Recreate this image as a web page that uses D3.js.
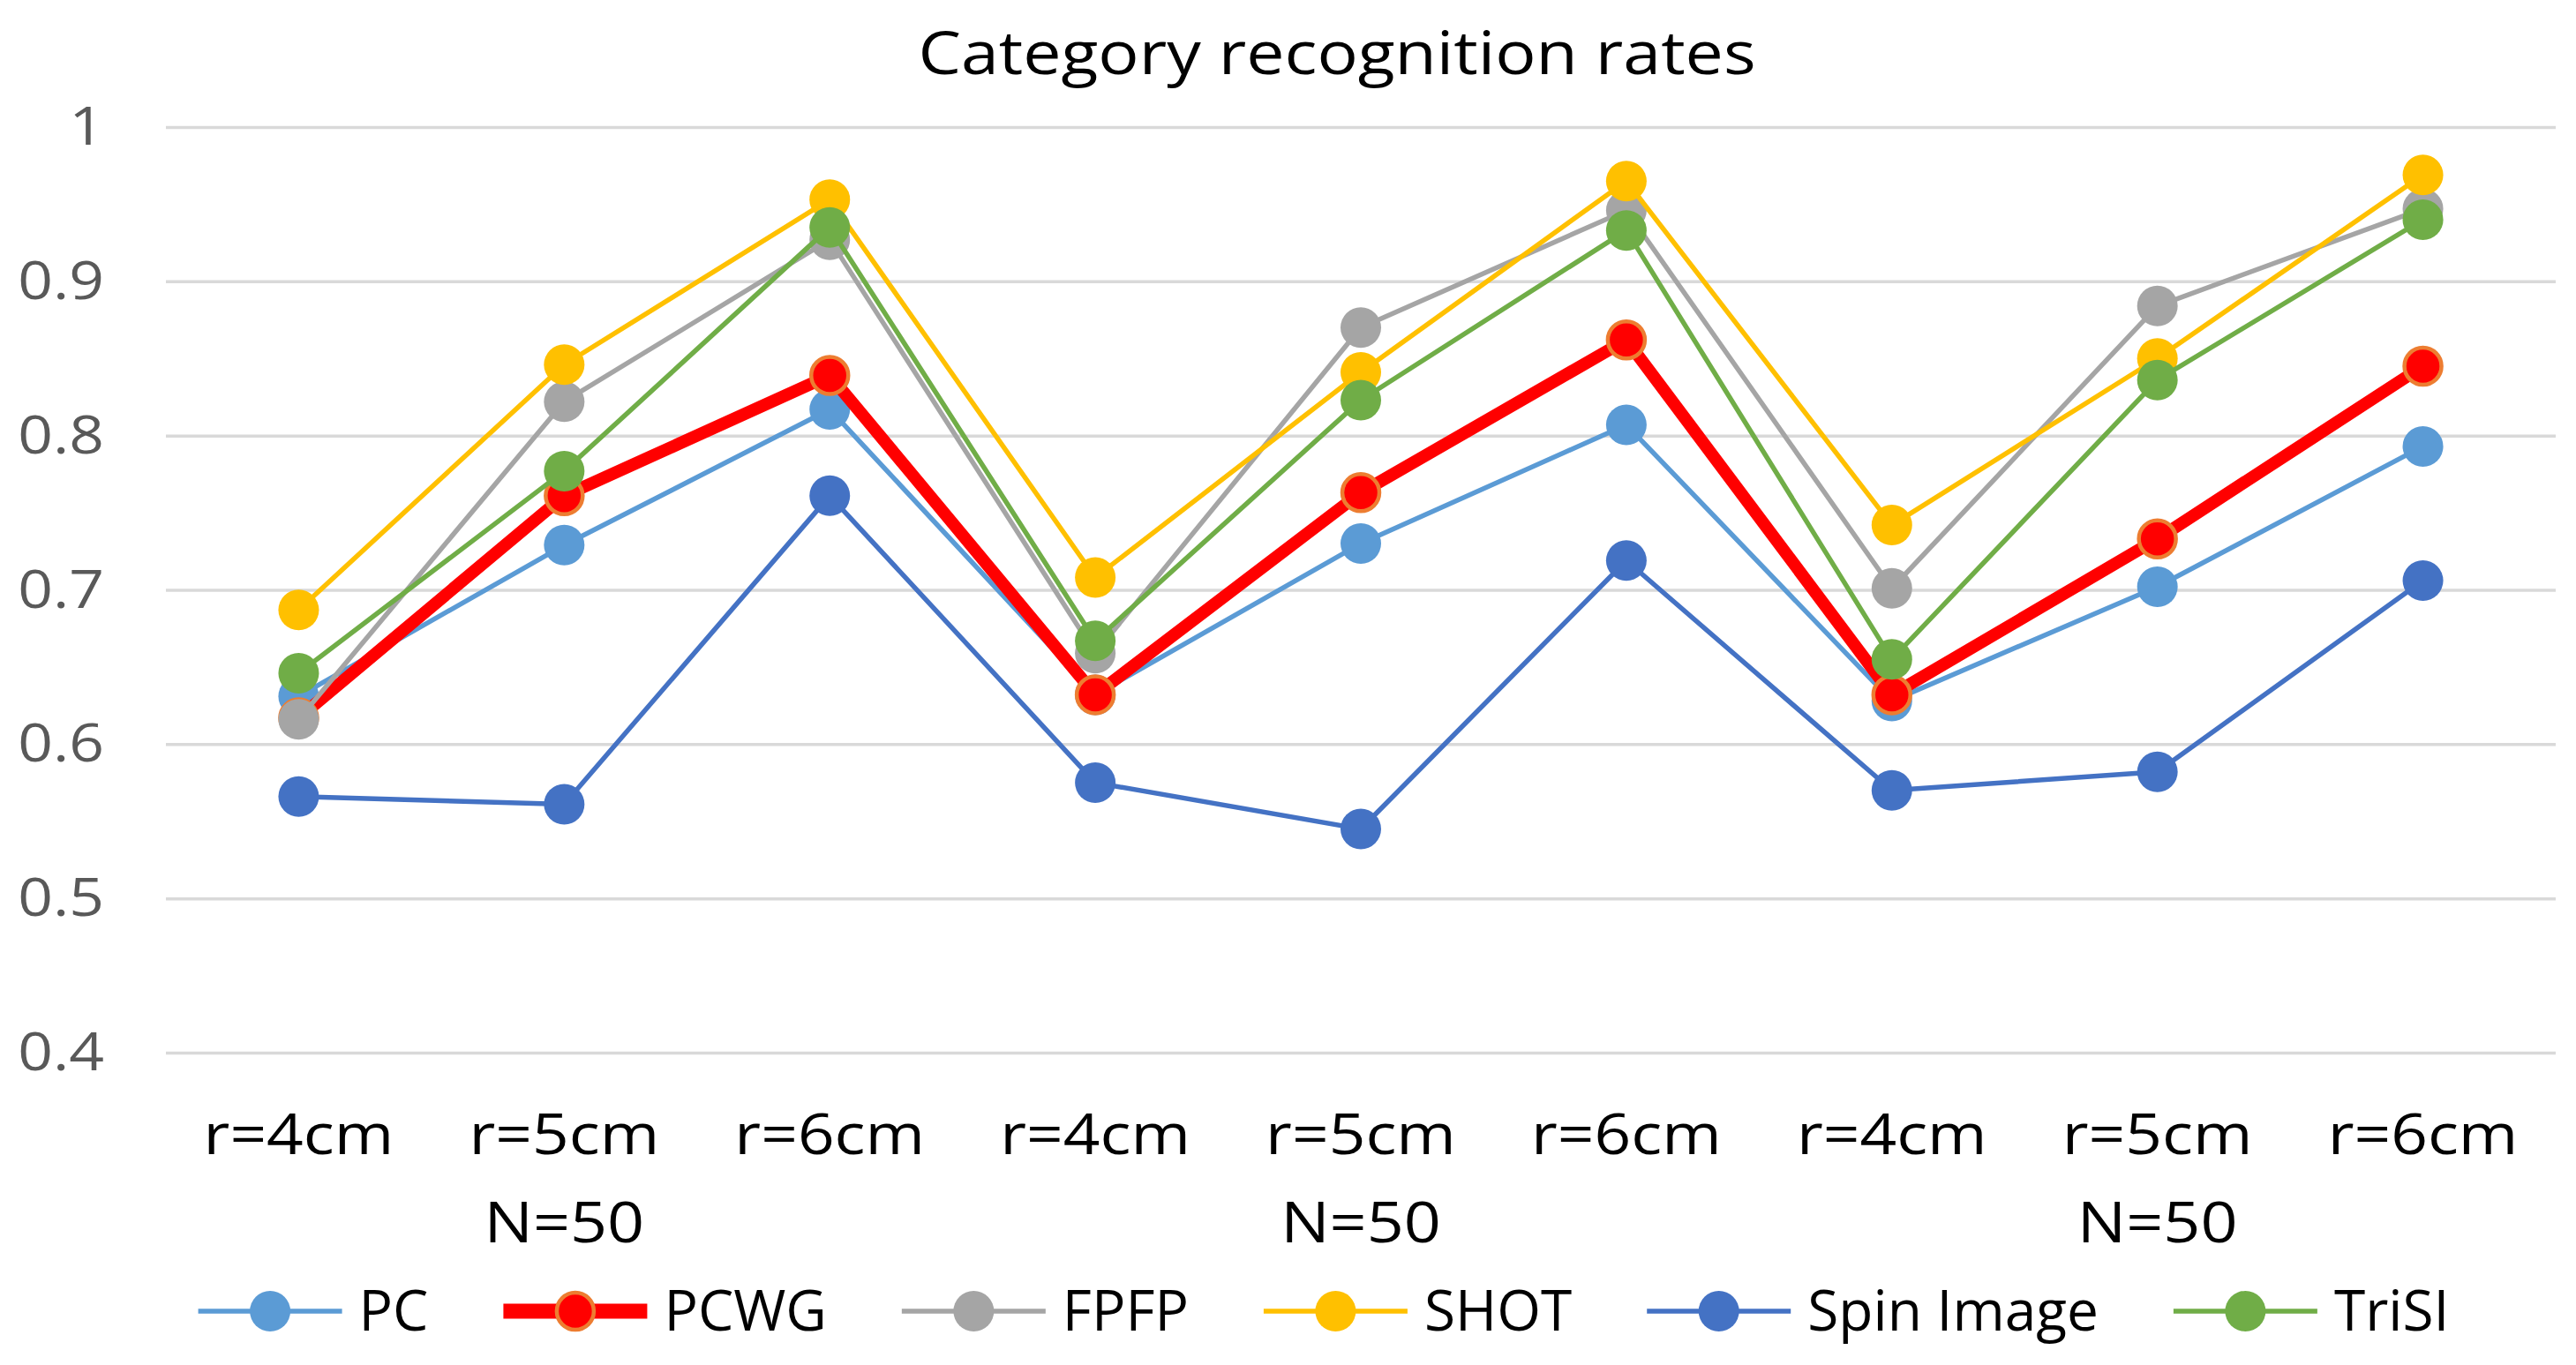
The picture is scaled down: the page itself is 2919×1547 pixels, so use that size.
<!DOCTYPE html>
<html>
<head>
<meta charset="utf-8">
<script src="https://cdn.jsdelivr.net/npm/d3@7"></script>
<style>
  body { margin: 0; background: #fff; }
  text { font-family: "Open Sans", sans-serif; }
</style>
</head>
<body>
<div id="chart"></div>
<script>
const categories = ["r=4cm", "r=5cm", "r=6cm", "r=4cm", "r=5cm", "r=6cm", "r=4cm", "r=5cm", "r=6cm"]
const groups = ["N=50", "N=50", "N=50"]
const yTicks = [0.4, 0.5, 0.6, 0.7, 0.8, 0.9, 1]

const pc = [0.631, 0.729, 0.817, 0.632, 0.730, 0.807, 0.628, 0.702, 0.793]
const pcwg = [0.617, 0.761, 0.839, 0.632, 0.763, 0.862, 0.632, 0.733, 0.845]
const fpfp = [0.616, 0.822, 0.927, 0.659, 0.870, 0.946, 0.701, 0.884, 0.947]
const shot = [0.687, 0.846, 0.953, 0.708, 0.841, 0.965, 0.742, 0.850, 0.969]
const spin = [0.566, 0.561, 0.761, 0.575, 0.545, 0.719, 0.570, 0.582, 0.706]
const trisi = [0.646, 0.777, 0.935, 0.667, 0.823, 0.933, 0.655, 0.836, 0.940]

const series = [
    {name: "PC", values: pc, color: "#5B9BD5"},
    {name: "PCWG", values: pcwg, color: "#FF0000", border: "#ED7D31", thick: true},
    {name: "FPFP", values: fpfp, color: "#A5A5A5"},
    {name: "SHOT", values: shot, color: "#FFC000"},
    {name: "Spin Image", values: spin, color: "#4472C4"},
    {name: "TriSI", values: trisi, color: "#70AD47"}
]

const width = 2919
const height = 1547
const margin = {top: 144, right: 23, bottom: 354, left: 188}
const w = width - margin.left - margin.right
const h = height - margin.top - margin.bottom

// the original text is a bit wider than Open Sans at the same height
function stretch(sel, k) {
    sel.each(function () {
        const t = d3.select(this)
        t.attr("textLength", this.getComputedTextLength() * k)
            .attr("lengthAdjust", "spacingAndGlyphs")
    })
}

const svg = d3.select("#chart")
    .append("svg")
    .attr("width", width)
    .attr("height", height)

const g = svg.append("g")
    .attr("transform", `translate(${margin.left}, ${margin.top})`)

const xScale = d3.scaleBand()
    .domain(d3.range(categories.length))
    .range([0, w])

const yScale = d3.scaleLinear()
    .domain([0.4, 1])
    .range([h, 0])

// title
svg.append("text")
    .attr("x", 1515)
    .attr("y", 84)
    .attr("text-anchor", "middle")
    .attr("font-size", 67)
    .attr("fill", "#000")
    .text("Category recognition rates")
    .call(stretch, 1.15)

// grid + y labels
const yAxis = d3.axisLeft(yScale)
    .tickValues(yTicks)
    .tickSize(-w)
    .tickPadding(70)
    .tickFormat(d => d === 1 ? "1" : d3.format(".1f")(d))

g.append("g")
    .attr("class", "axis y-axis")
    .call(yAxis)
    .call(s => s.select(".domain").remove())
    .call(s => s.selectAll("line").attr("stroke", "#d9d9d9").attr("stroke-width", 3.5))
    .call(s => s.selectAll("text")
        .attr("font-size", 61)
        .attr("fill", "#595959")
        .attr("font-family", "Open Sans, sans-serif")
        .call(stretch, 1.14))

// category labels
g.append("g")
    .selectAll("text")
    .data(categories)
    .join("text")
    .attr("x", (d, i) => xScale(i) + xScale.bandwidth() / 2)
    .attr("y", 1308 - margin.top)
    .attr("text-anchor", "middle")
    .attr("font-size", 64)
    .attr("fill", "#000")
    .text(d => d)
    .call(stretch, 1.14)

g.append("g")
    .selectAll("text")
    .data(groups)
    .join("text")
    .attr("x", (d, i) => xScale(i * 3 + 1) + xScale.bandwidth() / 2)
    .attr("y", 1408 - margin.top)
    .attr("text-anchor", "middle")
    .attr("font-size", 64)
    .attr("fill", "#000")
    .text(d => d)
    .call(stretch, 1.15)

// lines + markers
const line = d3.line()
    .x((d, i) => xScale(i) + xScale.bandwidth() / 2)
    .y(d => yScale(d))

const r = 23

series.forEach(s => {
    const sg = g.append("g")
    sg.append("path")
        .datum(s.values)
        .attr("fill", "none")
        .attr("stroke", s.color)
        .attr("stroke-width", s.thick ? 14 : 5.5)
        .attr("stroke-linejoin", "round")
        .attr("d", line)
    sg.selectAll("circle")
        .data(s.values)
        .join("circle")
        .attr("cx", (d, i) => xScale(i) + xScale.bandwidth() / 2)
        .attr("cy", d => yScale(d))
        .attr("r", s.border ? r - 2 : r)
        .attr("fill", s.color)
        .attr("stroke", s.border || "none")
        .attr("stroke-width", s.border ? 4.5 : 0)
})

// legend
const legend = svg.append("g")
const ly = 1486
const lineLen = 163
const textGap = 19
const itemGap = 85
const items = legend.selectAll("g")
    .data(series)
    .join("g")

items.append("line")
    .attr("x1", 0)
    .attr("x2", lineLen)
    .attr("y1", 0)
    .attr("y2", 0)
    .attr("stroke", d => d.color)
    .attr("stroke-width", d => d.thick ? 17 : 5.5)

items.append("circle")
    .attr("cx", lineLen / 2)
    .attr("r", d => d.border ? r - 2 : r)
    .attr("fill", d => d.color)
    .attr("stroke", d => d.border || "none")
    .attr("stroke-width", d => d.border ? 4.5 : 0)

items.append("text")
    .attr("x", lineLen + textGap)
    .attr("y", 0)
    .attr("dy", "0.35em")
    .attr("font-size", 64)
    .attr("fill", "#000")
    .text(d => d.name)

let offsets = []
let cur = 0
items.each(function () {
    const tw = d3.select(this).select("text").node().getComputedTextLength()
    offsets.push(cur)
    cur += lineLen + textGap + tw + itemGap
})
const total = cur - itemGap
const startX = 1500 - total / 2
items.attr("transform", (d, i) => `translate(${startX + offsets[i]}, ${ly})`)
</script>
</body>
</html>
